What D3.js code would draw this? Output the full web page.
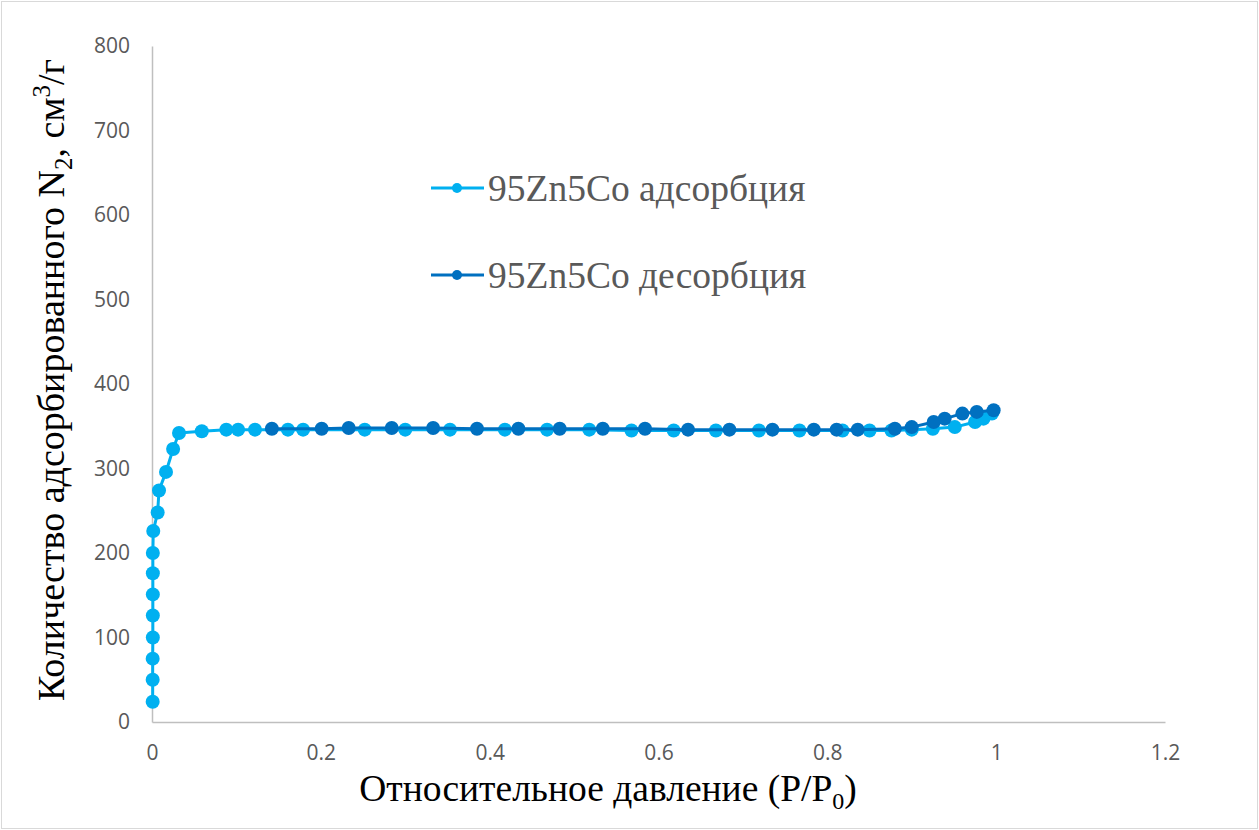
<!DOCTYPE html>
<html>
<head>
<meta charset="utf-8">
<script src="https://cdn.jsdelivr.net/npm/d3@7/dist/d3.min.js"></script>
<style>
  html, body { margin: 0; padding: 0; background: #fff; }
  svg { display: block; }
</style>
</head>
<body>
<script>
// N2 isotherm for the 95Zn5Co sample
const adsP = [0.0008, 0.0008, 0.0008, 0.0010, 0.0010, 0.0010, 0.0010, 0.0010, 0.0015, 0.0067, 0.0083,
  0.0166, 0.025, 0.032, 0.059, 0.088, 0.102, 0.122, 0.161, 0.179, 0.252, 0.300, 0.353, 0.418,
  0.468, 0.518, 0.568, 0.618, 0.668, 0.719, 0.767, 0.818, 0.850, 0.876, 0.900, 0.925, 0.951,
  0.975, 0.985, 0.995];
const adsV = [24, 50, 75, 100, 126, 151, 176, 200, 226, 248, 274,
  296, 323, 342, 344, 346, 346, 346, 346, 346, 346, 346, 346, 346,
  346, 346, 345, 345, 345, 345, 345, 345, 345, 345, 346, 347, 349,
  355, 359, 365];
const desP = [0.997, 0.977, 0.960, 0.939, 0.926, 0.900, 0.880, 0.836, 0.811, 0.784, 0.735,
  0.684, 0.635, 0.584, 0.534, 0.483, 0.434, 0.385, 0.333, 0.284, 0.233, 0.201, 0.142];
const desV = [369, 367, 365, 359, 355, 349, 347, 346, 346, 346, 346,
  346, 346, 347, 347, 347, 347, 347, 348, 348, 348, 347, 347];

const xTicks = [0, 0.2, 0.4, 0.6, 0.8, 1, 1.2];
const yTicks = [0, 100, 200, 300, 400, 500, 600, 700, 800];
const seriesNames = ["95Zn5Co адсорбция", "95Zn5Co десорбция"];
const seriesColors = ["#00B0F0", "#0070C0"];

const W = 1259, H = 830;
const svg = d3.select("body").append("svg").attr("width", W).attr("height", H);

svg.append("rect").attr("x", 1.5).attr("y", 1.5).attr("width", W - 3).attr("height", H - 3)
  .attr("fill", "#fff").attr("stroke", "#d9d9d9").attr("stroke-width", 1);

const x = d3.scaleLinear().domain([0, 1.2]).range([152, 1165]);
const y = d3.scaleLinear().domain([0, 800]).range([722, 46]);

// axes
const xAxis = svg.append("g").attr("transform", `translate(0,${y(0)})`)
  .call(d3.axisBottom(x).tickValues(xTicks).tickSize(0).tickPadding(23)
    .tickFormat(d => d3.format("")(+d.toFixed(1))));
const yAxis = svg.append("g").attr("transform", `translate(${x(0)},0)`)
  .call(d3.axisLeft(y).tickValues(yTicks).tickSize(0).tickPadding(22));
[xAxis, yAxis].forEach(g => {
  g.select(".domain").attr("stroke", "#bfbfbf").attr("stroke-width", 1.5);
  g.selectAll("text").attr("fill", "#595959")
    .style("font-family", "'Open Sans', 'Segoe UI', sans-serif").style("font-size", "21px");
});

// series
const series = [
  { pts: adsP.map((p, i) => [p, adsV[i]]), color: seriesColors[0] },
  { pts: desP.map((p, i) => [p, desV[i]]), color: seriesColors[1] }
];
const line = d3.line().x(d => x(d[0])).y(d => y(d[1]));
series.forEach(s => {
  const g = svg.append("g");
  g.append("path").datum(s.pts).attr("d", line).attr("fill", "none")
    .attr("stroke", s.color).attr("stroke-width", 3).attr("stroke-linejoin", "round");
  g.selectAll("circle").data(s.pts).join("circle")
    .attr("cx", d => x(d[0])).attr("cy", d => y(d[1])).attr("r", 7).attr("fill", s.color);
});

// legend
const serif = "'Liberation Serif', 'Times New Roman', serif";
const legendY = [188, 275];
seriesNames.forEach((name, i) => {
  const g = svg.append("g");
  g.append("line").attr("x1", 431).attr("x2", 484).attr("y1", legendY[i]).attr("y2", legendY[i])
    .attr("stroke", seriesColors[i]).attr("stroke-width", 3);
  g.append("circle").attr("cx", 457).attr("cy", legendY[i]).attr("r", 5).attr("fill", seriesColors[i]);
  g.append("text").attr("x", 488).attr("y", legendY[i] + 13).text(name)
    .attr("fill", "#595959").style("font-family", serif).style("font-size", "37.5px");
});

// axis titles
const xt = svg.append("text").attr("x", 608).attr("y", 801).attr("text-anchor", "middle")
  .attr("fill", "#000").style("font-family", serif).style("font-size", "37.5px");
xt.append("tspan").text("Относительное давление (P/P");
xt.append("tspan").text("0").attr("dy", 8).style("font-size", "24px");
xt.append("tspan").text(")").attr("dy", -8);

const yt = svg.append("text").attr("transform", "translate(64,380) rotate(-90)")
  .attr("text-anchor", "middle").attr("fill", "#000")
  .style("font-family", serif).style("font-size", "38px");
yt.append("tspan").text("Количество адсорбированного N");
yt.append("tspan").text("2").attr("dy", 8).style("font-size", "25px");
yt.append("tspan").text(", см").attr("dy", -8);
yt.append("tspan").text("3").attr("dy", -14).style("font-size", "25px");
yt.append("tspan").text("/г").attr("dy", 14);
</script>
</body>
</html>
